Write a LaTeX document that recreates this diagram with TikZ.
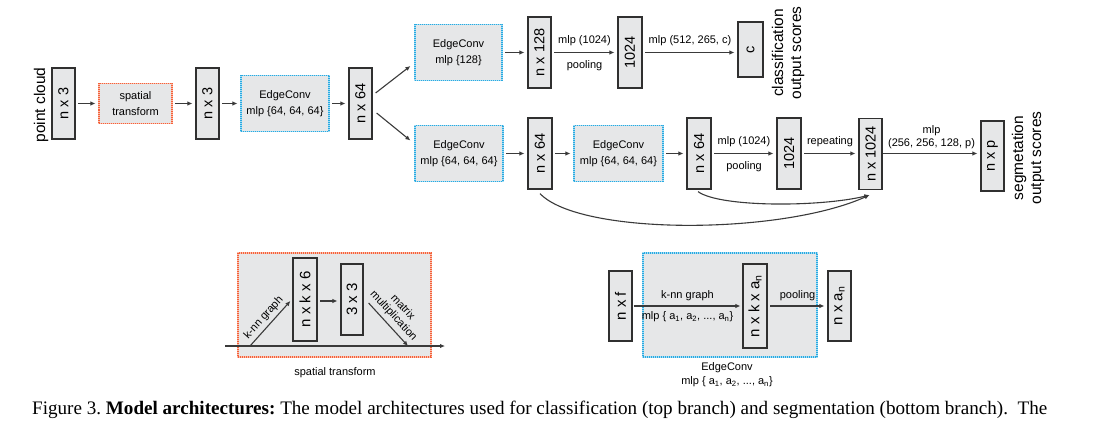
\documentclass[tikz,border=0pt]{standalone}
\usepackage{fontspec}
\setmainfont{Liberation Sans}
\newfontfamily\capfont{Liberation Serif}
\usetikzlibrary{arrows.meta,calc}
\definecolor{boxgray}{HTML}{E6E7E8}
\definecolor{dk}{HTML}{303030}
\definecolor{orng}{HTML}{F4623A}
\definecolor{skyb}{HTML}{29AAE1}
\definecolor{ln}{HTML}{3A3A3A}
\tikzset{
 dbox/.style={draw=dk, fill=boxgray, line width=1.2pt, inner sep=0pt, font=\fontsize{14.5}{16}\selectfont},
 opbox/.style={fill=boxgray, line width=1.2pt, inner sep=0pt, align=center, font=\fontsize{11}{16}\selectfont},
 stbox/.style={opbox, draw=orng!40, postaction={draw=orng, line width=1.2pt, dash pattern=on 1pt off 1pt}},
 ecbox/.style={opbox, draw=skyb!40, postaction={draw=skyb, line width=1.2pt, dash pattern=on 1pt off 1pt}},
 arr/.style={draw=ln, line width=1.1pt, -{Latex[length=5pt,width=4.5pt]}},
 gap/.style={shorten <=2.5pt, shorten >=3pt},
 lab/.style={font=\fontsize{11}{13}\selectfont, text=black, inner sep=0pt},
 outlab/.style={font=\fontsize{15.5}{18}\selectfont, rotate=90, align=center, inner sep=0pt},
}
\begin{document}
\begin{tikzpicture}[x=1pt,y=-1pt]
\useasboundingbox (0,0) rectangle (1095,425);
% ---------- main row ----------
\node[outlab] (pclab) at (41,105) {point cloud};
\node[dbox, minimum width=23pt, minimum height=71pt] (pc) at (63.5,103.5) {\rotatebox{90}{n x 3}};
\node[stbox, minimum width=73pt, minimum height=40pt] (st) at (135.5,103.5) {spatial\\transform};
\node[dbox, minimum width=23pt, minimum height=71pt] (b2) at (207.5,103.5) {\rotatebox{90}{n x 3}};
\node[ecbox, minimum width=88pt, minimum height=56pt] (ec1) at (285,103.5) {EdgeConv\\mlp \{64, 64, 64\}};
\node[dbox, minimum width=23pt, minimum height=71pt] (b3) at (360.5,103.5) {\rotatebox{90}{n x 64}};
\draw[arr,gap] (pc.east) -- (pc.east -| st.west);
\draw[arr,gap] (st.east) -- (st.east -| b2.west);
\draw[arr,gap] (b2.east) -- (b2.east -| ec1.west);
\draw[arr,gap] (ec1.east) -- (ec1.east -| b3.west);
% ---------- top branch ----------
\node[ecbox, minimum width=87pt, minimum height=56pt] (ec2) at (458.5,52.5) {EdgeConv\\mlp \{128\}};
\node[dbox, minimum width=23pt, minimum height=71pt] (b4) at (539.5,52.5) {\rotatebox{90}{n x 128}};
\node[dbox, minimum width=24pt, minimum height=71pt] (b5) at (630,52.5) {\rotatebox{90}{1024}};
\node[dbox, minimum width=25pt, minimum height=55pt] (c) at (750.5,49.5) {\rotatebox{90}{c}};
\node[outlab] (clab) at (788,53) {classification\\output scores};
\draw[arr] ($(b3.east)+(3,-10.5)$) -- ($(ec2.west)+(-4,13.5)$);
\draw[arr,gap] (ec2.east) -- (ec2.east -| b4.west);
\draw[arr,gap] (b4.east) -- (b4.east -| b5.west)
  node[lab, midway, above=6pt] {mlp (1024)}
  node[lab, midway, below=7pt] {pooling};
\draw[arr,gap] (b5.east) -- (b5.east -| c.west)
  node[lab, midway, above=6pt] {mlp (512, 265, c)};
% ---------- bottom branch ----------
\node[ecbox, minimum width=88pt, minimum height=56pt] (ec3) at (459,153.5) {EdgeConv\\mlp \{64, 64, 64\}};
\node[dbox, minimum width=24pt, minimum height=71pt] (b6) at (540,153.5) {\rotatebox{90}{n x 64}};
\node[ecbox, minimum width=89pt, minimum height=56pt] (ec4) at (618.5,153.5) {EdgeConv\\mlp \{64, 64, 64\}};
\node[dbox, minimum width=24pt, minimum height=71pt] (b7) at (699,153.5) {\rotatebox{90}{n x 64}};
\node[dbox, minimum width=24pt, minimum height=71pt] (b8) at (789,153.5) {\rotatebox{90}{1024}};
\node[dbox, minimum width=23pt, minimum height=71pt] (b9) at (870.5,154) {\rotatebox{90}{n x 1024}};
\node[dbox, minimum width=23pt, minimum height=70pt] (b10) at (992.5,156) {\rotatebox{90}{n x p}};
\node[outlab] (slab) at (1028,158) {segmetation\\output scores};
\draw[arr] ($(b3.east)+(4,9.5)$) -- ($(ec3.west)+(-4,-13)$);
\draw[arr,gap] (ec3.east) -- (ec3.east -| b6.west);
\draw[arr,gap] (b6.east) -- (b6.east -| ec4.west);
\draw[arr,gap] (ec4.east) -- (ec4.east -| b7.west);
\draw[arr,gap] (b7.east) -- (b7.east -| b8.west)
  node[lab, midway, above=6pt] {mlp (1024)}
  node[lab, midway, below=7pt] {pooling};
\draw[arr,gap] (b8.east) -- (b8.east -| b9.west)
  node[lab, midway, above=6pt] {repeating};
\draw[arr,shorten >=3pt] (b9.east |- b8.east) -- (b8.east -| b10.west)
  node[lab, midway, above=4pt, align=center] {mlp\\(256, 256, 128, p)};
\draw[arr] ($(b6.south)+(0,4)$) .. controls +(40,42) and +(-89,40) .. ($(b9.south)+(-1,5)$);
\draw[arr] ($(b7.south)+(-1,2)$) .. controls +(22,16) and +(-49,12) .. ($(b9.south)+(-1,5)$);
% ---------- spatial transform detail ----------
\node[stbox, minimum width=193pt, minimum height=104pt] (stbg) at (334.5,305) {};
\node[dbox, minimum width=24pt, minimum height=83pt, font=\fontsize{15}{16}\selectfont] (nkk) at (305,299.5) {\rotatebox{90}{n x k x 6}};
\node[dbox, minimum width=22pt, minimum height=71pt, font=\fontsize{15}{16}\selectfont] (m33) at (352,299.5) {\rotatebox{90}{3 x 3}};
\draw[arr,gap] (nkk.east |- 0,301) -- (m33.west |- 0,301);
\coordinate (tl) at (225,346);
\coordinate (tr) at (445,346);
\coordinate (k1) at (250,346);
\coordinate (m1) at (408,346);
\draw[arr] (tl) -- (tr);
\draw[arr] (k1) -- ($(nkk.west)+(-2,1.5)$)
  node[lab, midway, sloped, above=3pt] {k-nn graph};
\draw[arr] ($(m33.east)+(5,3.5)$) -- (m1)
  node[lab, pos=0.45, sloped, above=4pt, align=center, font=\fontsize{11}{12.5}\selectfont] {matrix\\multiplication};
\node[lab] (stlab) at (335,373) {spatial transform};
% ---------- EdgeConv detail ----------
\node[ecbox, minimum width=174pt, minimum height=104pt] (ecbg) at (730,305) {};
\node[dbox, minimum width=23pt, minimum height=70pt, font=\fontsize{15}{16}\selectfont] (nxf) at (620.5,306) {\rotatebox{90}{n x f}};
\node[dbox, minimum width=24pt, minimum height=84pt, font=\fontsize{15}{16}\selectfont] (nkka) at (755,306) {\rotatebox{90}{n x k x a\textsubscript{n}}};
\node[dbox, minimum width=23pt, minimum height=70pt, font=\fontsize{15}{16}\selectfont] (nxa) at (839.5,306) {\rotatebox{90}{n x a\textsubscript{n}}};
\draw[arr,shorten <=1pt,shorten >=2pt] (nxf.east) -- (nxf.east -| nkka.west)
  node[lab, midway, above=5pt] {k-nn graph}
  node[lab, midway, below=5pt] {mlp \{ a\textsubscript{1}, a\textsubscript{2}, ..., a\textsubscript{n}\}};
\draw[arr,gap] (nkka.east) -- (nkka.east -| nxa.west)
  node[lab, midway, above=5pt] {pooling};
\node[lab, align=center, font=\fontsize{11}{14}\selectfont] (eclab) at (727,375) {EdgeConv\\mlp \{ a\textsubscript{1}, a\textsubscript{2}, ..., a\textsubscript{n}\}};
% ---------- caption ----------
\node[anchor=base west, inner sep=0pt, font=\capfont\fontsize{19.1}{20}\selectfont] (cap) at (32,414) {Figure 3.\ \textbf{Model architectures:}\ The model architectures used for classification (top branch) and segmentation (bottom branch).\ \ The};
\end{tikzpicture}
\end{document}
